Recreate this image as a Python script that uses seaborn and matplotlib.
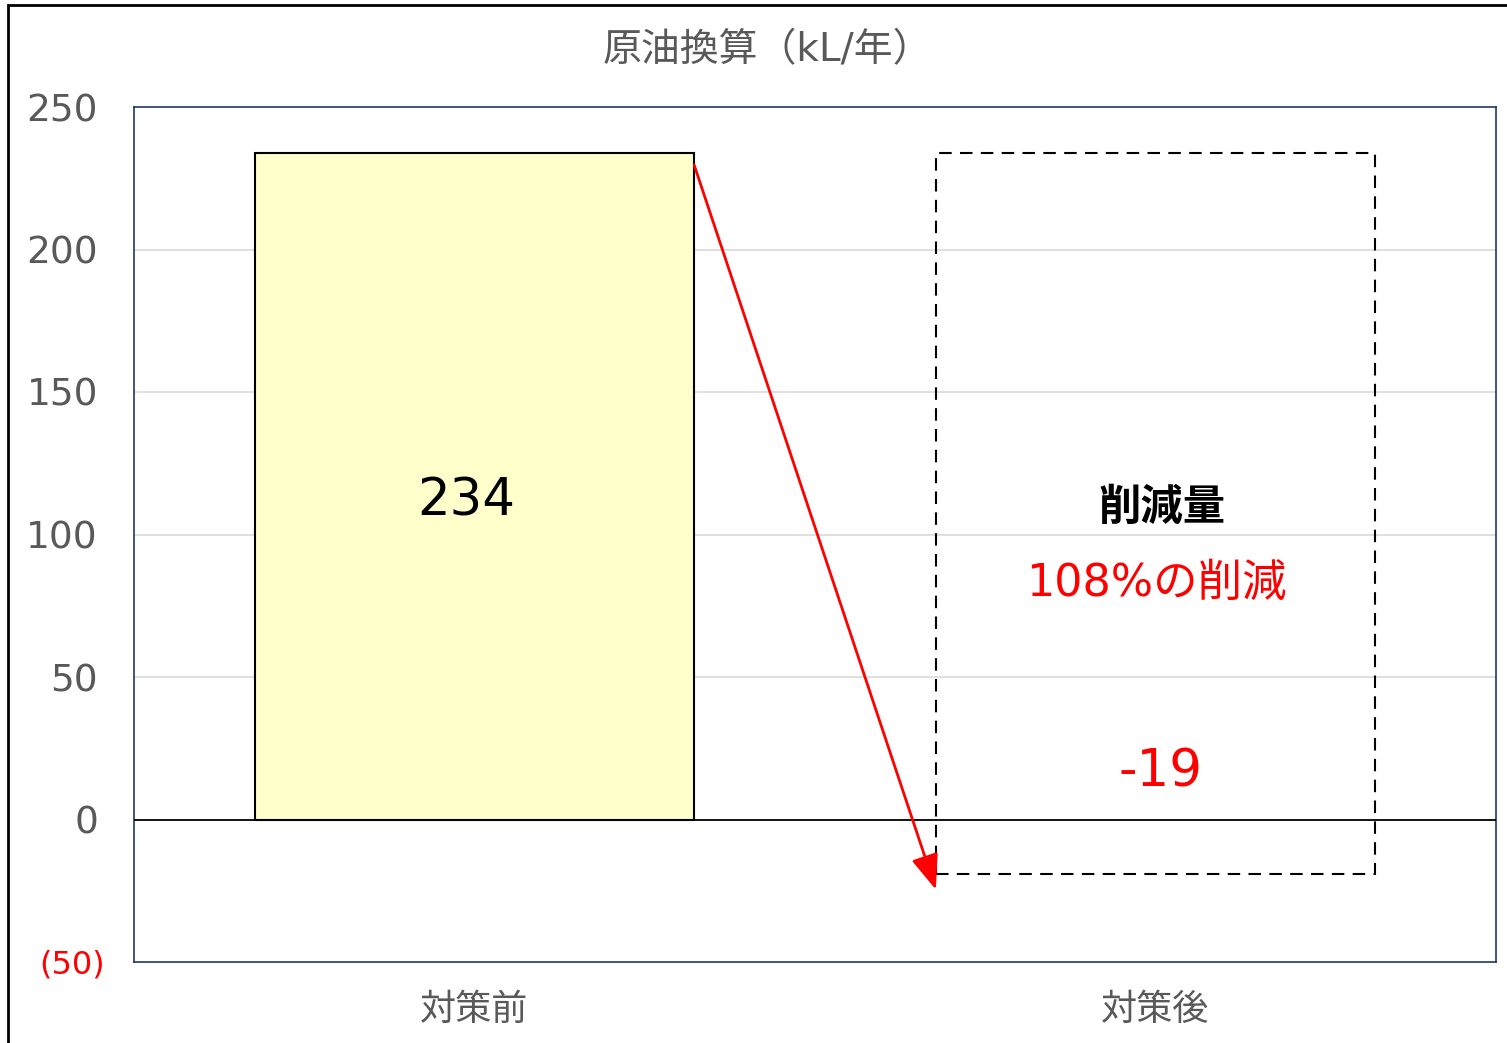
import matplotlib
matplotlib.use("Agg")
import matplotlib.pyplot as plt
import matplotlib.transforms as mtransforms
import seaborn as sns
import pandas as pd
from matplotlib.patches import Rectangle

# ---- data ----
categories = ["対策前", "対策後"]
before_value = 234
after_value = -19
yticks = [-50, 0, 50, 100, 150, 200, 250]
ytick_labels = ["(50)", "0", "50", "100", "150", "200", "250"]
title = "原油換算（kL/年）"
reduction_label = "削減量"

sns.set_theme(style="white")
plt.rcParams['font.family'] = ['DejaVu Sans', 'Noto Sans CJK JP']

fig = plt.figure(figsize=(15.07, 10.43), dpi=100)
ax = fig.add_axes([134/1507, (1043-962)/1043, (1496-134)/1507, (962-107)/1043])

df = pd.DataFrame({"cat": [categories[0]], "val": [before_value]})
sns.barplot(data=df, x="cat", y="val", order=categories, ax=ax,
            color="#FFFFCC", saturation=1, width=0.645,
            edgecolor="black", linewidth=1.5, zorder=3)

# dashed box for after
ax.bar(1, before_value - after_value, bottom=after_value, width=0.645,
       fill=False, edgecolor="black", linewidth=1.5, linestyle=(0, (6, 4)), zorder=4)

ax.set_xlim(-0.5, 1.5)
ax.set_ylim(-50, 250)
ax.set_yticks(yticks)
ax.set_yticklabels(ytick_labels)
ax.tick_params(axis='y', length=0, pad=26)
for lbl, v in zip(ax.get_yticklabels(), yticks):
    if v < 0:
        lbl.set_color("red")
        lbl.set_fontsize(23)
        lbl.set_transform(lbl.get_transform() +
                          mtransforms.ScaledTranslation(7/100, 0, fig.dpi_scale_trans))
    else:
        lbl.set_color("#595959")
        lbl.set_fontsize(27)
ax.tick_params(axis='x', length=0, pad=22, labelsize=26, labelcolor="#595959")
ax.set_xlabel("")
ax.set_ylabel("")

for v in [50, 100, 150, 200]:
    ax.axhline(v, color="#D9D9D9", linewidth=1.2, zorder=1)
ax.axhline(0, color="black", linewidth=1.3, zorder=5)

for s in ax.spines.values():
    s.set_color("#1F3864")
    s.set_linewidth(1.2)

# texts
ax.text(-0.012, 111.5, f"{before_value}", ha="center", va="center", fontsize=37, color="black", zorder=6)
ax.text(1.009, 109.5, reduction_label, ha="center", va="center", fontsize=30.5, color="black",
        fontweight="bold", zorder=6)
pct = round((before_value - after_value) / before_value * 100)
ax.text(1.0015, 83, f"{pct}%の削減", ha="center", va="center", fontsize=32, color="red", zorder=6)
ax.text(1.008, 16.5, f"{after_value}", ha="center", va="center", fontsize=37, color="red", zorder=6)

# arrow
ax.annotate("", xy=(0.6775, -24.6), xytext=(0.3225, 229.7),
            arrowprops=dict(arrowstyle="-|>,head_length=1.8,head_width=0.7",
                            color="red", lw=2, shrinkA=0, shrinkB=0), zorder=7)

fig.text(767/1507, 1 - 50/1043, title, ha="center", va="center", fontsize=28, color="#595959")

# outer border
fig.patches.append(Rectangle((8/1507, -0.05), 1.2, 1 - 5/1043 + 0.05, transform=fig.transFigure,
                             fill=False, edgecolor="black", linewidth=2))

fig.savefig("out.png", dpi=100)
